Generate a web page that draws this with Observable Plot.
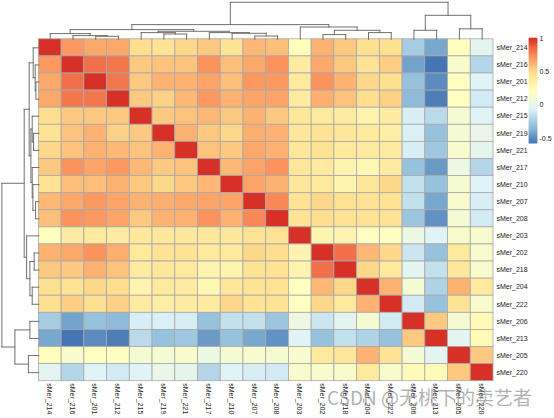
<!DOCTYPE html>
<html><head><meta charset="utf-8">
<script src="https://cdn.jsdelivr.net/npm/d3@7"></script>
<script src="https://cdn.jsdelivr.net/npm/@observablehq/plot@0.6"></script>
<style>
html,body{margin:0;padding:0;background:#fff;}
#wrap{position:relative;width:554px;height:418px;overflow:hidden;}
#main{position:absolute;left:0;top:0;}
#legend{position:absolute;left:520px;top:0;}
#wm{position:absolute;left:327px;top:387px;font-size:19px;line-height:19px;color:rgba(125,125,125,0.6);font-family:"Noto Sans CJK SC","Noto Sans",sans-serif;white-space:nowrap;pointer-events:none;}
</style></head>
<body><div id="wrap"><div id="main"></div><div id="legend"></div><div id="wm">CSDN @无桃下的卖艺者</div></div>
<script>
// sample order (rows and columns, as clustered)
const samples = ["sMer_214","sMer_216","sMer_201","sMer_212","sMer_215","sMer_219","sMer_221","sMer_217","sMer_210","sMer_207","sMer_208","sMer_203","sMer_202","sMer_218","sMer_204","sMer_222","sMer_206","sMer_213","sMer_205","sMer_220"];

// upper triangle of the correlation matrix: row i holds values for columns i+1..19
const upper = [
  [0.70,0.65,0.65,0.48,0.45,0.50,0.55,0.45,0.60,0.58,0.22,0.62,0.55,0.47,0.47,-0.25,-0.40,0.22,-0.02],
  [0.82,0.80,0.55,0.57,0.57,0.72,0.58,0.65,0.72,0.38,0.65,0.55,0.45,0.53,-0.42,-0.58,0.15,-0.20],
  [0.80,0.55,0.62,0.62,0.66,0.58,0.70,0.70,0.40,0.72,0.62,0.50,0.47,-0.30,-0.50,0.20,-0.05],
  [0.55,0.52,0.60,0.70,0.62,0.66,0.66,0.38,0.63,0.57,0.48,0.52,-0.33,-0.55,0.20,-0.10],
  [0.55,0.57,0.60,0.55,0.62,0.55,0.42,0.40,0.38,0.30,0.38,-0.08,-0.18,0.12,-0.05],
  [0.62,0.55,0.50,0.63,0.62,0.42,0.45,0.42,0.40,0.36,-0.07,-0.30,0.12,0.02],
  [0.57,0.55,0.65,0.62,0.42,0.45,0.40,0.38,0.38,-0.08,-0.27,0.15,0.00],
  [0.60,0.66,0.72,0.42,0.40,0.30,0.28,0.38,-0.30,-0.45,0.05,-0.20],
  [0.66,0.62,0.42,0.40,0.30,0.42,0.50,-0.15,-0.30,0.12,-0.05],
  [0.75,0.45,0.50,0.45,0.45,0.45,-0.15,-0.40,0.15,-0.08],
  [0.45,0.48,0.45,0.45,0.45,-0.28,-0.48,0.12,-0.10],
  [0.30,0.30,0.20,0.20,0.05,-0.05,0.15,0.15],
  [0.82,0.60,0.50,-0.12,-0.30,0.40,0.15],
  [0.50,0.40,-0.02,-0.15,0.42,0.15],
  [0.62,0.12,-0.22,0.62,0.40],
  [-0.10,-0.30,0.45,0.15],
  [0.55,0.12,0.25],
  [-0.02,0.25],
  [0.55]
];

// hierarchical clustering merges: [node, left child, right child, height]
const merges = [
  ["n1","sMer_201","sMer_212",3.0],
  ["n2","sMer_216","n1",3.7],
  ["n3","sMer_214","n2",5.7],
  ["n4","sMer_219","sMer_221",5.3],
  ["n5","sMer_215","n4",6.7],
  ["n6","sMer_207","sMer_208",3.3],
  ["n7","sMer_210","n6",6.0],
  ["n8","sMer_217","n7",6.7],
  ["n9","n5","n8",8.0],
  ["n10","n3","n9",9.7],
  ["n11","sMer_202","sMer_218",4.7],
  ["n12","sMer_204","sMer_222",6.7],
  ["n13","n11","n12",9.0],
  ["n14","sMer_203","n13",12.3],
  ["n15","n10","n14",14.7],
  ["n16","sMer_206","sMer_213",9.0],
  ["n17","sMer_205","sMer_220",10.5],
  ["n18","n16","n17",24.0],
  ["n19","n15","n18",37.0]
];

const legendTicks = [-0.5, 0, 0.5, 1];
const palette = ["#4575B4","#91BFDB","#E0F3F8","#FFFFBF","#FEE090","#FC8D59","#D73027"];

// ---- build
const n = samples.length;
const cells = [];
for (let i = 0; i < n; i++) {
  for (let j = 0; j < n; j++) {
    let v;
    if (i === j) v = 1;
    else if (j > i) v = upper[i][j - i - 1];
    else v = upper[j][i - j - 1];
    cells.push({i, j, value: v});
  }
}
const [vmin, vmax] = d3.extent(cells, d => d.value);
const stops = d3.range(palette.length).map(k => vmin + k * (vmax - vmin) / (palette.length - 1));

const X0 = 38.4, X1 = 493, Y0 = 38.8, Y1 = 380.7;
const xUnit = (X1 - X0) / n, yUnit = (Y1 - Y0) / n;

// dendrogram geometry (position along leaves, height)
const pos = new Map(samples.map((s, k) => [s, k + 0.5]));
const hgt = new Map(samples.map(s => [s, 0]));
const segs = [];
for (const [id, a, b, h] of merges) {
  const pa = pos.get(a), pb = pos.get(b);
  segs.push({p1: pa, h1: hgt.get(a), p2: pa, h2: h});
  segs.push({p1: pb, h1: hgt.get(b), p2: pb, h2: h});
  segs.push({p1: pa, h1: h, p2: pb, h2: h});
  pos.set(id, (pa + pb) / 2);
  hgt.set(id, h);
}
const font = "'Liberation Sans', Arial, Helvetica, sans-serif";

const main = Plot.plot({
  width: 554, height: 418, margin: 0,
  style: {fontFamily: font, background: "transparent"},
  x: {type: "linear", domain: [0, n], range: [X0, X1], axis: null},
  y: {type: "linear", domain: [0, n], range: [Y0, Y1], axis: null},
  color: {type: "linear", domain: stops, range: palette, interpolate: "rgb"},
  marks: [
    Plot.rect(cells, {x1: d => d.j, x2: d => d.j + 1, y1: d => d.i, y2: d => d.i + 1, fill: "value", stroke: "#a8a8a8", strokeWidth: 0.8}),
    // top dendrogram (columns)
    Plot.link(segs, {x1: "p1", x2: "p2", y1: d => -d.h1 / yUnit, y2: d => -d.h2 / yUnit, stroke: "#707070", strokeWidth: 1, strokeLinecap: "square"}),
    // left dendrogram (rows)
    Plot.link(segs, {y1: "p1", y2: "p2", x1: d => -d.h1 / xUnit, x2: d => -d.h2 / xUnit, stroke: "#707070", strokeWidth: 1, strokeLinecap: "square"}),
    Plot.text(samples, {x: () => n, y: (d, k) => k + 0.5, text: d => d, textAnchor: "start", dx: 3, fontSize: 7, fill: "#222"}),
    Plot.text(samples, {x: (d, k) => k + 0.5, y: () => n, text: d => d, rotate: 90, textAnchor: "start", dy: 2, dx: -1, fontSize: 7, fill: "#222"})
  ]
});
document.getElementById("main").appendChild(main);

// colour bar legend
const bins = d3.range(100).map(k => {
  const a = vmin + k * (vmax - vmin) / 100, b = vmin + (k + 1) * (vmax - vmin) / 100;
  return {a, b, m: (a + b) / 2};
});
const legend = Plot.plot({
  width: 34, height: 418, margin: 0,
  style: {fontFamily: font, background: "transparent"},
  x: {type: "linear", domain: [0, 1], range: [9, 17], axis: null},
  y: {type: "linear", domain: [vmin, vmax], range: [143.2, 38], axis: null},
  color: {type: "linear", domain: stops, range: palette, interpolate: "rgb"},
  marks: [
    Plot.rect(bins, {x1: 0, x2: 1, y1: "a", y2: "b", fill: "m", inset: -0.3}),
    Plot.text(legendTicks, {x: 1, y: d => d, text: d => String(d), textAnchor: "start", dx: 2, fontSize: 7, fill: "#222"})
  ]
});
document.getElementById("legend").appendChild(legend);
</script>
</body></html>
